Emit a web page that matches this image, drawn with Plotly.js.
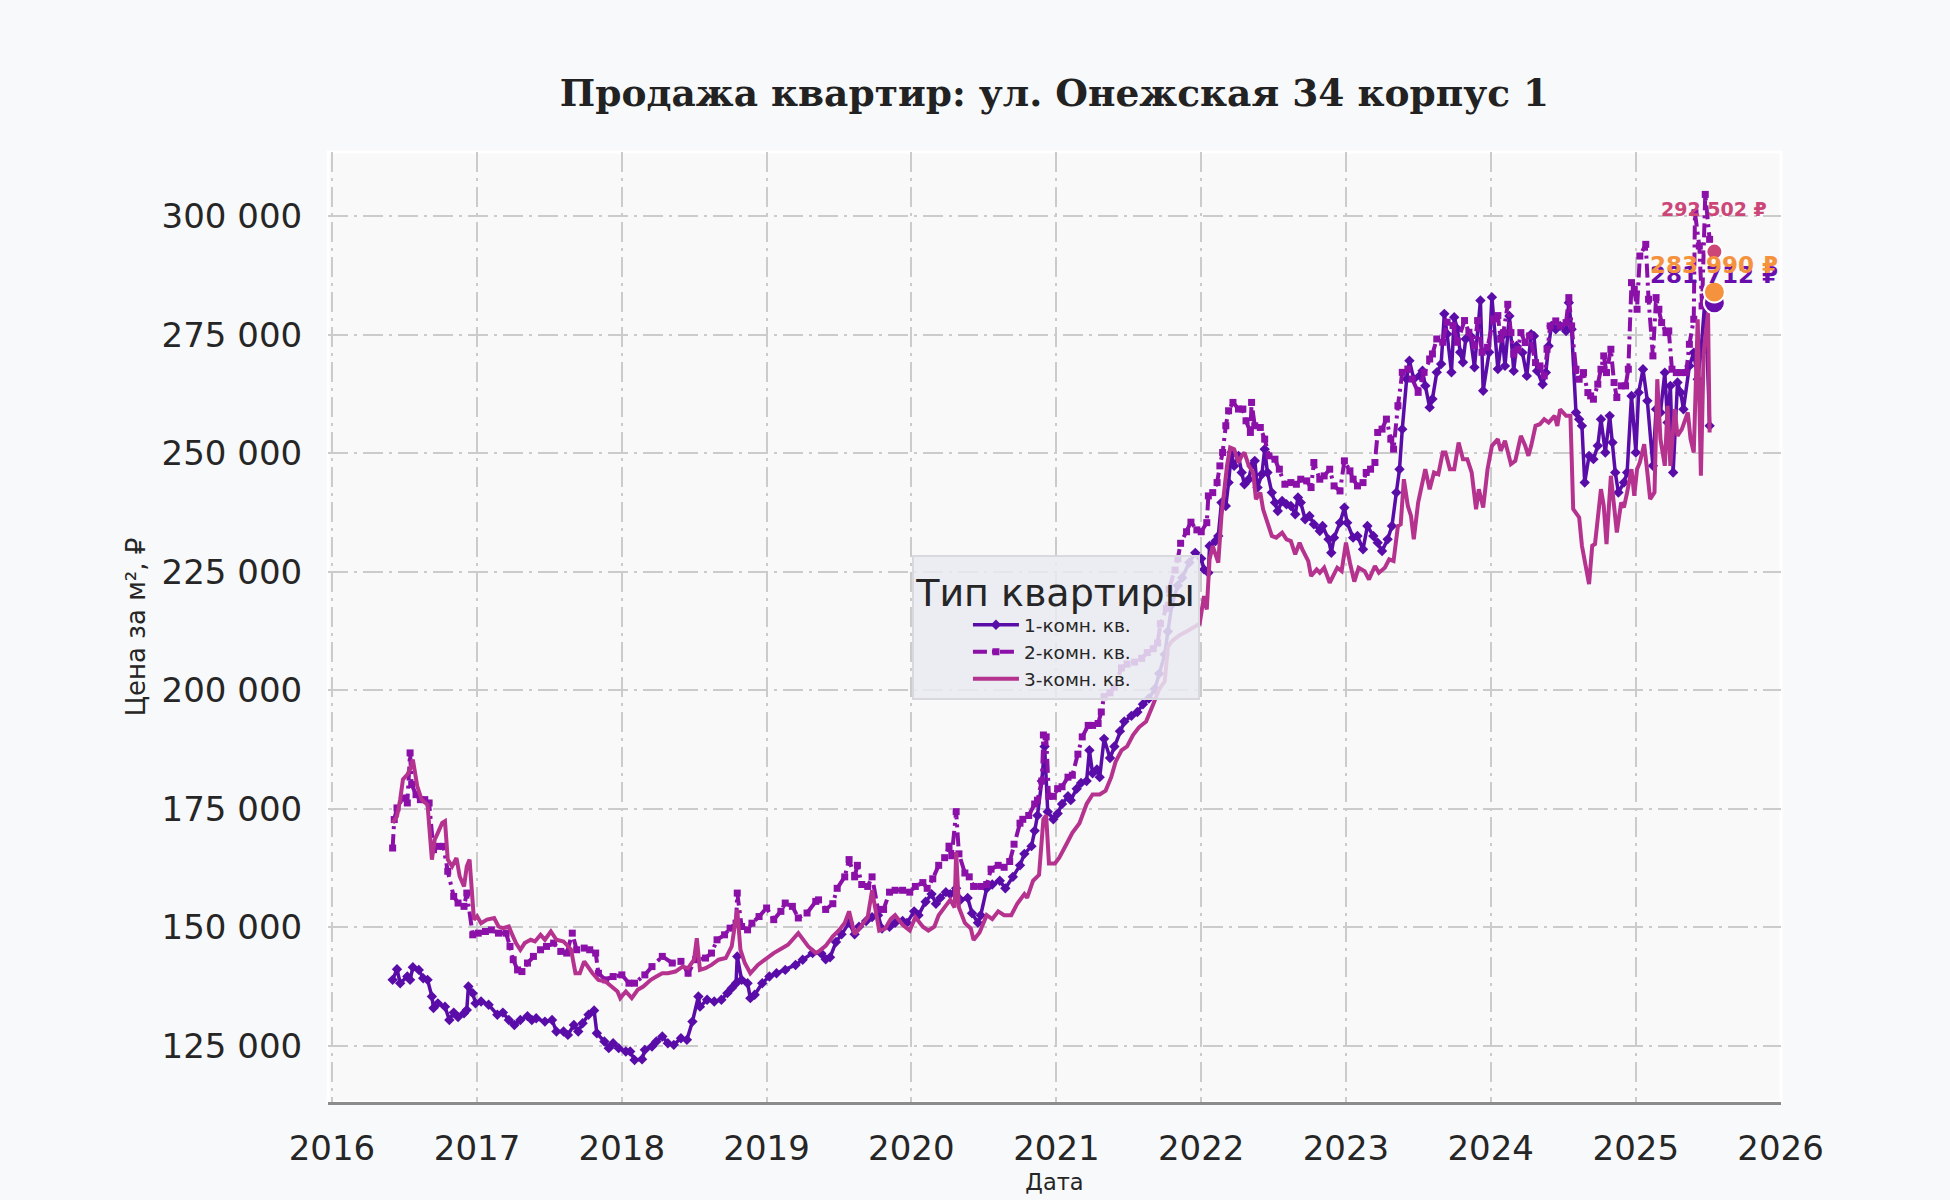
<!DOCTYPE html>
<html>
<head>
<meta charset="utf-8">
<script src="https://cdn.plot.ly/plotly-3.0.1.min.js"></script>
<style>
  html, body { margin: 0; padding: 0; background: #f8f9fa; }
  #chart { width: 1950px; height: 1200px; }
</style>
</head>
<body>
<div id="chart"></div>
<script>
// readings: [decimal year, price per m²]
var oneRoom = [
  [2016.42,138950],[2016.45,141200],[2016.47,138250],[2016.52,139650],[2016.54,138950],[2016.56,141600],[2016.60,141050],[2016.63,139300],
  [2016.66,138950],[2016.69,135450],[2016.70,133000],[2016.73,134000],[2016.78,133300],[2016.81,130500],[2016.84,132050],[2016.87,131100],
  [2016.91,131900],[2016.93,132600],[2016.94,137550],[2016.97,136150],[2016.99,134000],[2017.03,134400],[2017.08,133700],[2017.14,131600],
  [2017.18,132050],[2017.22,130500],[2017.26,129450],[2017.30,130500],[2017.35,131300],[2017.38,130500],[2017.41,130850],[2017.47,130150],
  [2017.52,130500],[2017.55,128050],[2017.60,128050],[2017.63,127350],[2017.67,129450],[2017.70,128050],[2017.73,129800],[2017.77,131600],
  [2017.81,132500],[2017.83,127700],[2017.88,125950],[2017.91,124550],[2017.94,125600],[2017.98,124550],[2018.03,123850],[2018.06,123850],
  [2018.09,122050],[2018.14,122200],[2018.16,124200],[2018.21,124900],[2018.24,125950],[2018.28,127000],[2018.32,125600],[2018.36,125250],
  [2018.41,126650],[2018.45,126300],[2018.49,130150],[2018.53,135450],[2018.54,133300],[2018.59,134750],[2018.64,134400],[2018.69,134750],
  [2018.73,136150],[2018.76,137200],[2018.79,138250],[2018.80,143900],[2018.83,138950],[2018.87,138250],[2018.89,135100],[2018.92,135800],
  [2018.97,138250],[2019.02,139650],[2019.07,140350],[2019.13,141050],[2019.20,142100],[2019.25,143200],[2019.32,144600],
  [2019.38,144500],[2019.41,143300],[2019.44,143700],[2019.48,146930],[2019.52,148550],[2019.57,150970],[2019.61,148550],[2019.64,150160],
  [2019.69,151370],[2019.73,152180],[2019.77,152590],[2019.80,149760],[2019.85,150160],[2019.89,150970],[2019.94,151370],[2019.97,150970],
  [2020.02,153400],[2020.05,152590],[2020.10,155420],[2020.14,157030],[2020.17,155010],[2020.20,156230],[2020.24,157440],[2020.27,157030],
  [2020.31,158250],[2020.34,155820],[2020.39,156230],[2020.42,152990],[2020.46,150970],[2020.48,152590],[2020.52,158250],[2020.56,159060],
  [2020.61,159860],[2020.65,158250],[2020.70,160670],[2020.75,163100],[2020.78,165520],[2020.83,167140],[2020.85,170370],[2020.87,173610],
  [2020.90,180880],[2020.92,188160],[2020.94,174420],[2020.98,172800],[2021.01,174010],[2021.04,176030],[2021.08,177650],[2021.10,176840],
  [2021.14,179260],[2021.17,180480],[2021.21,180880],[2021.23,187350],[2021.25,182500],[2021.28,183310],[2021.30,181690],[2021.33,189770],
  [2021.37,185730],[2021.40,188160],[2021.44,191390],[2021.47,193410],[2021.52,194620],[2021.56,195430],[2021.60,197050],[2021.64,198260],
  [2021.68,200280],[2021.71,203520],[2021.75,207560],[2021.77,212410],[2021.80,218070],[2021.84,222110],[2021.87,223730],[2021.92,226960],
  [2021.96,228980],[2022.00,227770],
  [2022.02,225490],[2022.05,224790],[2022.06,230420],[2022.10,231480],[2022.12,232540],[2022.14,239580],[2022.17,238870],[2022.19,243800],
  [2022.21,250140],[2022.23,247320],[2022.26,249440],[2022.28,245920],[2022.30,243450],[2022.33,244510],[2022.35,247320],[2022.37,248380],
  [2022.39,242750],[2022.42,245560],[2022.44,250850],[2022.46,245920],[2022.49,241690],[2022.51,239580],[2022.53,237820],[2022.56,239930],
  [2022.59,239230],[2022.62,238870],[2022.65,237110],[2022.67,240640],[2022.69,239580],[2022.72,236060],[2022.75,236760],[2022.78,235000],
  [2022.82,233590],[2022.84,234650],[2022.88,231830],[2022.90,229010],[2022.92,232190],[2022.96,235350],[2022.99,238520],[2023.01,235350],
  [2023.05,232190],[2023.08,232540],[2023.12,229720],[2023.15,234650],[2023.19,232540],[2023.22,231130],[2023.25,229370],[2023.29,231830],
  [2023.32,234650],[2023.35,241690],[2023.37,246620],[2023.39,255070],[2023.42,265630],[2023.44,269510],[2023.47,265630],[2023.51,266340],
  [2023.53,267390],[2023.55,264230],[2023.58,259650],[2023.60,261410],[2023.63,267040],[2023.66,268800],[2023.68,279370],[2023.70,275140],
  [2023.73,267040],[2023.75,278660],[2023.77,276200],[2023.79,271270],[2023.81,269160],[2023.83,274080],[2023.86,274790],[2023.89,268100],
  [2023.93,282180],[2023.95,263170],[2023.99,271270],[2024.01,282890],[2024.05,267750],
  [2024.08,274720],[2024.10,268400],[2024.13,278930],[2024.16,267350],[2024.18,272610],[2024.22,271210],[2024.25,266290],[2024.28,275070],
  [2024.30,274720],[2024.32,267350],[2024.36,264540],[2024.38,266990],[2024.40,272610],[2024.42,276830],[2024.45,276120],[2024.48,276830],
  [2024.52,275770],[2024.54,281740],[2024.56,276120],[2024.59,258570],[2024.61,257160],[2024.63,255760],[2024.65,243820],[2024.68,249440],
  [2024.71,248740],[2024.74,251550],[2024.76,257160],[2024.79,250150],[2024.82,257870],[2024.84,252250],[2024.86,245930],[2024.88,241720],
  [2024.92,243820],[2024.94,245930],[2024.97,262080],[2025.00,250150],[2025.02,262780],[2025.05,267700],[2025.08,261030],[2025.12,247340],
  [2025.14,259270],[2025.17,258570],[2025.20,266990],[2025.22,256460],[2025.24,264190],[2025.26,245930],[2025.29,264890],[2025.31,262780],
  [2025.33,259270],[2025.37,268400],[2025.40,271210],[2025.43,265590],[2025.45,271210],[2025.48,283150],[2025.51,255760]
];

var twoRoom = [
  [2016.42,166750],[2016.43,172750],[2016.45,175200],[2016.49,177300],[2016.52,176250],[2016.54,186800],[2016.55,180150],[2016.58,178000],
  [2016.61,176950],[2016.64,176950],[2016.67,176250],[2016.70,166400],[2016.73,167100],[2016.77,167100],[2016.80,161850],[2016.84,156550],
  [2016.87,155150],[2016.91,154450],[2016.93,157250],[2016.97,148450],[2017.01,148800],[2017.06,149150],[2017.10,149500],[2017.15,148800],
  [2017.20,148800],[2017.23,146000],[2017.25,143200],[2017.28,141050],[2017.31,140700],[2017.35,142500],[2017.39,143900],[2017.44,145300],
  [2017.48,146000],[2017.53,146700],[2017.58,144950],[2017.62,144600],[2017.66,148800],[2017.69,145300],[2017.74,145650],[2017.78,145300],
  [2017.82,144600],[2017.84,140350],[2017.89,138950],[2017.94,139650],[2018.00,140000],[2018.05,138250],[2018.09,138250],[2018.16,140000],
  [2018.21,141750],[2018.28,143900],[2018.35,142500],[2018.41,142850],[2018.46,140350],[2018.51,143200],[2018.58,143550],[2018.62,144600],
  [2018.66,147400],[2018.71,148450],[2018.75,149850],[2018.79,150900],[2018.80,157250],[2018.83,150200],[2018.87,149500],[2018.90,150900],
  [2018.95,152300],[2019.00,154100],[2019.05,151650],[2019.10,153400],[2019.13,155150],[2019.18,154450],[2019.22,152000],[2019.28,153050],
  [2019.34,155500],
  [2019.36,155820],[2019.41,153800],[2019.46,155010],[2019.49,158250],[2019.54,160670],[2019.57,164310],[2019.61,160670],[2019.63,163100],
  [2019.66,159060],[2019.70,158650],[2019.73,160670],[2019.77,153800],[2019.81,153800],[2019.85,157440],[2019.89,157840],[2019.94,157840],
  [2019.99,157440],[2020.03,158650],[2020.08,159460],[2020.11,158250],[2020.15,160260],[2020.19,163100],[2020.23,164710],[2020.26,167140],
  [2020.28,165120],[2020.31,174420],[2020.33,165520],[2020.37,161480],[2020.40,160670],[2020.43,158650],[2020.48,158650],[2020.52,159060],
  [2020.55,162290],[2020.60,163100],[2020.64,162690],[2020.68,163910],[2020.71,167550],[2020.75,171990],[2020.77,172800],[2020.81,173610],
  [2020.85,176030],[2020.87,176840],[2020.90,180880],[2020.91,190580],[2020.93,190180],[2020.95,177650],[2020.98,177650],[2021.01,179260],
  [2021.04,179670],[2021.08,181690],[2021.11,182090],[2021.15,186540],[2021.18,190180],[2021.22,192600],[2021.25,192600],[2021.29,193010],
  [2021.31,195430],[2021.33,198670],[2021.37,199470],[2021.40,200690],[2021.45,204730],[2021.49,205540],[2021.54,205940],[2021.59,206750],
  [2021.63,207960],[2021.67,208770],[2021.70,209980],[2021.72,214030],[2021.76,217260],[2021.78,221300],[2021.82,225350],[2021.84,227770],
  [2021.86,231000],[2021.90,233430],[2021.93,235450],[2021.97,233830],[2022.00,233430],
  [2022.04,235350],[2022.05,240990],[2022.08,241690],[2022.11,243800],[2022.13,247320],[2022.15,250140],[2022.17,255780],[2022.19,258940],
  [2022.22,260700],[2022.26,259300],[2022.29,259300],[2022.31,256830],[2022.34,254370],[2022.35,260700],[2022.37,255780],[2022.41,255420],
  [2022.44,252960],[2022.47,249440],[2022.51,248730],[2022.54,246620],[2022.58,243450],[2022.62,243800],[2022.66,243450],[2022.69,244510],
  [2022.73,244160],[2022.76,242750],[2022.78,248030],[2022.82,244510],[2022.85,245210],[2022.89,246620],[2022.92,243100],[2022.96,242040],
  [2022.99,248380],[2023.03,246270],[2023.05,244510],[2023.08,243100],[2023.12,243800],[2023.14,245920],[2023.17,246620],[2023.20,248030],
  [2023.22,254370],[2023.25,255070],[2023.28,257180],[2023.31,252960],[2023.33,250850],[2023.36,260000],[2023.39,267040],[2023.43,267750],
  [2023.46,265630],[2023.50,262820],[2023.54,267040],[2023.58,269860],[2023.60,270920],[2023.63,274080],[2023.67,273380],[2023.70,277610],
  [2023.74,276900],[2023.77,273380],[2023.82,277960],[2023.85,275490],[2023.89,272680],[2023.91,277960],[2023.94,271270],[2023.98,272320],
  [2024.02,278310],[2024.05,279010],
  [2024.07,274020],[2024.09,275420],[2024.12,281390],[2024.14,275420],[2024.16,270860],[2024.19,271910],[2024.21,275420],[2024.24,273320],
  [2024.27,274720],[2024.31,269100],[2024.34,268400],[2024.37,266290],[2024.39,271910],[2024.41,276830],[2024.45,277880],[2024.48,276830],
  [2024.52,277530],[2024.54,282800],[2024.56,276830],[2024.59,267700],[2024.61,265590],[2024.64,266990],[2024.67,262780],[2024.69,262080],
  [2024.71,261380],[2024.74,264540],[2024.76,267700],[2024.78,270510],[2024.80,266990],[2024.83,271910],[2024.85,264890],[2024.87,261730],
  [2024.90,264190],[2024.93,264190],[2024.95,267700],[2024.97,285960],[2024.99,284550],[2025.01,280340],[2025.03,291570],[2025.07,294030],
  [2025.09,282450],[2025.12,270510],[2025.14,282800],[2025.16,280340],[2025.18,277530],[2025.21,275420],[2025.23,275770],[2025.25,267700],
  [2025.28,266990],[2025.31,266990],[2025.35,266990],[2025.37,272960],[2025.40,278230],[2025.41,300700],[2025.44,293680],[2025.46,281040],
  [2025.48,304560],[2025.51,295080]
];

var threeRoom = [
  [2016.42,172050],[2016.45,173450],[2016.47,176950],[2016.49,181200],[2016.52,182250],[2016.54,183300],[2016.56,185400],[2016.59,179800],
  [2016.62,176950],[2016.66,175900],[2016.69,164300],[2016.71,168500],[2016.73,169950],[2016.76,172050],[2016.78,172400],[2016.80,164300],
  [2016.83,162900],[2016.86,164650],[2016.88,160800],[2016.91,158650],[2016.93,162900],[2016.95,164300],[2016.98,151650],[2017.00,152350],
  [2017.03,150900],[2017.07,151650],[2017.12,152000],[2017.15,150200],[2017.18,149850],[2017.22,150200],[2017.24,148800],[2017.27,146700],
  [2017.30,145300],[2017.33,146700],[2017.37,147400],[2017.40,147050],[2017.44,148450],[2017.47,147400],[2017.51,149150],[2017.55,147400],
  [2017.60,147050],[2017.65,145300],[2017.68,140350],[2017.71,140350],[2017.74,142850],[2017.77,141400],[2017.80,140350],[2017.84,138950],
  [2017.89,138600],[2017.93,137550],[2017.97,136500],[2017.99,135100],[2018.03,136500],[2018.07,135100],[2018.11,136850],[2018.15,137550],
  [2018.20,138950],[2018.24,139650],[2018.28,140350],[2018.32,140350],[2018.37,140700],[2018.42,141750],[2018.46,141400],[2018.50,143200],
  [2018.52,147750],[2018.54,141050],[2018.58,141400],[2018.62,142100],[2018.67,143200],[2018.72,143550],[2018.76,146000],[2018.80,153750],
  [2018.82,145300],[2018.85,142500],[2018.89,140350],[2018.94,142100],[2018.99,143200],[2019.05,144600],[2019.11,145650],[2019.15,146350],
  [2019.22,148800],[2019.26,147050],[2019.29,146000],[2019.34,144600],
  [2019.36,144910],[2019.41,146120],[2019.46,148140],[2019.50,149350],[2019.54,150970],[2019.57,153400],[2019.61,148550],[2019.65,150160],
  [2019.70,152180],[2019.73,157840],[2019.76,152590],[2019.78,149350],[2019.82,149760],[2019.86,151780],[2019.89,152590],[2019.94,150560],
  [2019.99,149350],[2020.03,152180],[2020.08,150160],[2020.12,149350],[2020.16,150160],[2020.19,152590],[2020.24,154610],[2020.27,155820],
  [2020.30,154200],[2020.31,165920],[2020.33,154200],[2020.37,150970],[2020.41,149760],[2020.43,147330],[2020.47,148950],[2020.52,152590],
  [2020.56,151780],[2020.60,153400],[2020.64,152590],[2020.69,152590],[2020.73,155010],[2020.78,157030],[2020.80,156230],[2020.84,159860],
  [2020.88,161070],[2020.91,172800],[2020.93,173610],[2020.95,163500],[2020.99,163500],[2021.02,164710],[2021.07,167550],[2021.11,169970],
  [2021.16,171990],[2021.21,176030],[2021.25,178050],[2021.30,178050],[2021.34,178860],[2021.38,181690],[2021.41,184920],[2021.45,187350],
  [2021.49,188160],[2021.53,190580],[2021.57,192200],[2021.62,193410],[2021.67,197050],[2021.71,200280],[2021.75,201900],[2021.77,209170],
  [2021.80,210380],[2021.85,211600],[2021.90,212410],[2021.94,213220],[2021.99,214030],
  [2022.02,219860],[2022.04,217040],[2022.06,227610],[2022.08,230420],[2022.12,226900],[2022.14,236760],[2022.18,247320],[2022.20,251200],
  [2022.23,250850],[2022.26,248030],[2022.28,249440],[2022.30,250140],[2022.33,247320],[2022.36,245920],[2022.38,240280],[2022.41,241690],
  [2022.43,238170],[2022.45,236060],[2022.49,232540],[2022.52,232190],[2022.56,233240],[2022.59,231830],[2022.62,231480],[2022.65,228660],
  [2022.68,231130],[2022.70,229720],[2022.74,227250],[2022.76,224090],[2022.80,225490],[2022.82,224790],[2022.85,225850],[2022.89,222680],
  [2022.91,224090],[2022.94,225850],[2022.97,225140],[2023.00,231130],[2023.03,226900],[2023.06,222920],[2023.09,225850],[2023.13,225140],
  [2023.16,223370],[2023.20,226200],[2023.23,224790],[2023.27,225850],[2023.30,227610],[2023.33,227250],[2023.36,234650],[2023.38,235000],
  [2023.40,244510],[2023.43,238870],[2023.45,236760],[2023.47,231830],[2023.50,239580],[2023.53,244510],[2023.55,246620],[2023.58,242400],
  [2023.61,245920],[2023.64,245560],[2023.67,250140],[2023.69,250140],[2023.72,246620],[2023.75,246620],[2023.78,252250],[2023.81,248730],
  [2023.84,248730],[2023.87,245920],[2023.90,238170],[2023.92,242400],[2023.95,238520],[2023.98,246620],[2024.01,251550],[2024.05,252960],
  [2024.07,250490],[2024.10,252600],[2024.14,247690],[2024.17,248390],[2024.21,253650],[2024.24,251550],[2024.26,249440],[2024.28,251550],
  [2024.31,255760],[2024.34,256110],[2024.37,257160],[2024.40,256460],[2024.44,257870],[2024.46,255760],[2024.48,259270],[2024.52,257870],
  [2024.55,257870],[2024.57,238210],[2024.61,236460],[2024.63,230480],[2024.68,222410],[2024.70,230480],[2024.72,230830],[2024.76,242420],
  [2024.78,238910],[2024.80,230830],[2024.83,245230],[2024.85,238910],[2024.87,233290],[2024.90,239610],[2024.92,238560],[2024.94,241720],
  [2024.97,246630],[2024.99,241020],[2025.01,246630],[2025.03,248040],[2025.06,251900],[2025.08,245930],[2025.10,240310],[2025.13,241720],
  [2025.15,265590],[2025.17,252950],[2025.20,247340],[2025.22,259970],[2025.24,247340],[2025.27,259270],[2025.29,253650],[2025.32,255060],
  [2025.36,258570],[2025.38,252950],[2025.40,250150],[2025.43,278230],[2025.45,245230],[2025.47,271210],[2025.50,279640],[2025.51,254360]
];

var seriesNames = ['1-комн. кв.', '2-комн. кв.', '3-комн. кв.'];

// latest prices marked at the right end
var lastDate = 2025.545;
var lastValues = [281712, 283990, 292502];
var lastColors = ['#6a0dad', '#f5923e', '#cc4778'];

function toDate(t) {
  var y = Math.floor(t);
  var a = Date.UTC(y, 0, 1), b = Date.UTC(y + 1, 0, 1);
  return new Date(a + (t - y) * (b - a)).toISOString().slice(0, 10);
}
function rub(v) {
  return String(v).replace(/\B(?=(\d{3})+(?!\d))/g, ' ') + ' ₽';
}

var FONT = 'DejaVu Sans, sans-serif';

var traces = [
  {
    x: oneRoom.map(p => toDate(p[0])), y: oneRoom.map(p => p[1]),
    name: seriesNames[0], type: 'scatter', mode: 'lines+markers',
    line: { color: '#5a0ca8', width: 3.5 },
    marker: { symbol: 'diamond', size: 8, color: '#5a0ca8' }
  },
  {
    x: twoRoom.map(p => toDate(p[0])), y: twoRoom.map(p => p[1]),
    name: seriesNames[1], type: 'scatter', mode: 'lines+markers',
    line: { color: '#8a10a8', width: 4, dash: '14px,5px,3px,5px' },
    marker: { symbol: 'square', size: 7, color: '#8a10a8' }
  },
  {
    x: threeRoom.map(p => toDate(p[0])), y: threeRoom.map(p => p[1]),
    name: seriesNames[2], type: 'scatter', mode: 'lines',
    line: { color: '#b5338f', width: 4 }
  },
  {
    x: lastValues.map(() => toDate(lastDate)), y: lastValues,
    type: 'scatter', mode: 'markers', showlegend: false, hoverinfo: 'skip',
    marker: { size: [21, 21, 16], color: lastColors, opacity: 1, line: { color: '#ffffff', width: 2 } }
  }
];

var labelShift = [28, 27, 43];
var labelSize = [23, 23, 19];
var annotations = lastValues.map((v, i) => ({
  x: toDate(lastDate), y: v, xref: 'x', yref: 'y',
  text: '<b>' + rub(v) + '</b>', showarrow: false,
  yshift: labelShift[i], xanchor: 'center', yanchor: 'middle',
  font: { family: FONT, size: labelSize[i], color: lastColors[i] }
}));

var gridStyle = { gridcolor: '#cbcbcb', gridwidth: 2, griddash: '20px,6px,3px,6px' };

var layout = {
  width: 1950, height: 1200,
  paper_bgcolor: '#f8f9fa',
  plot_bgcolor: '#f9f9f9',
  margin: { l: 328, r: 169, t: 152, b: 98 },
  separators: ', ',
  font: { family: FONT, color: '#262626' },
  title: {
    text: '<b>Продажа квартир: ул. Онежская 34 корпус 1</b>',
    font: { family: 'DejaVu Serif, serif', size: 37.5, color: '#222222' },
    xref: 'paper', x: 0.5, xanchor: 'center',
    yref: 'container', y: 0.9225, yanchor: 'middle'
  },
  xaxis: Object.assign({
    type: 'date',
    range: ['2015-12-22', '2026-01-02'],
    tick0: '2016-01-01', dtick: 'M12', tickformat: '%Y',
    showgrid: true, zeroline: false,
    showline: true, linecolor: '#8c8c8c', linewidth: 3,
    ticks: 'outside', ticklen: 14, tickcolor: 'rgba(0,0,0,0)',
    tickfont: { size: 34, color: '#262626' },
    title: { text: 'Дата', font: { size: 22.5, color: '#262626' }, standoff: 8 }
  }, gridStyle),
  yaxis: Object.assign({
    range: [113200, 313500],
    tick0: 125000, dtick: 25000, tickformat: ',d',
    showgrid: true, zeroline: false, showline: false,
    ticks: 'outside', ticklen: 18, tickcolor: 'rgba(0,0,0,0)',
    tickfont: { size: 34, color: '#262626' },
    title: { text: 'Цена за м², ₽', font: { size: 26, color: '#262626' }, standoff: 8 }
  }, gridStyle),
  legend: {
    x: 0.501, xanchor: 'center', y: 0.576, yanchor: 'top',
    bgcolor: 'rgba(234,234,242,0.85)', bordercolor: '#d8d8de', borderwidth: 2,
    font: { family: FONT, size: 18.5, color: '#262626' },
    title: { text: 'Тип квартиры', side: 'top center', font: { family: FONT, size: 38, color: '#262626' } },
    indentation: 54,
    itemwidth: 46, tracegroupgap: 0
  },
  shapes: [
    { type: 'rect', xref: 'paper', yref: 'paper', x0: 0, x1: 1, y0: 0, y1: 1,
      line: { color: '#ffffff', width: 3 }, layer: 'below' }
  ],
  annotations: annotations,
  hovermode: false
};

Plotly.newPlot('chart', traces, layout, { displayModeBar: false, responsive: false });
</script>
</body>
</html>
